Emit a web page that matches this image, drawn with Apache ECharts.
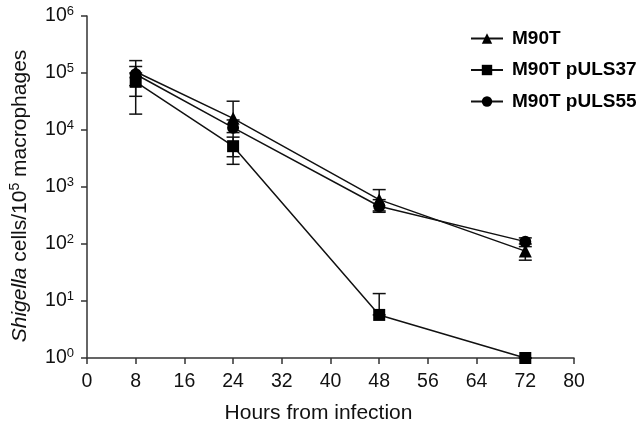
<!DOCTYPE html>
<html><head><meta charset="utf-8">
<script src="https://cdn.jsdelivr.net/npm/echarts@6/dist/echarts.min.js"></script>
<style>html,body{margin:0;padding:0;background:#fff}#c{width:640px;height:429px}</style>
</head><body><div id="c"></div>
<script>
const hours = [8, 24, 48, 72];
const m90t = [105000, 16000, 600, 75];
const m90tLow = [60000, 9000, 380, 52];
const m90tHigh = [165000, 32000, 900, 100];
const puls37 = [70000, 5200, 5.7, 1];
const puls37Low = [19000, 2500, 5.7, 1];
const puls37High = [100000, 7500, 13.5, 1];
const puls55 = [95000, 11000, 460, 110];
const puls55Low = [39000, 3400, 360, 90];
const puls55High = [130000, 15000, 600, 128];
const seriesNames = ['M90T', 'M90T pULS37', 'M90T pULS55'];
const xTicks = [0, 8, 16, 24, 32, 40, 48, 56, 64, 72, 80];

const font = 'Liberation Sans, Arial, sans-serif';
const chart = echarts.init(document.getElementById('c'), null, {renderer: 'canvas'});

function pts(vals) { return hours.map((h, i) => [h, vals[i]]); }
function errData(lo, hi) { return hours.map((h, i) => [h, lo[i], hi[i]]); }
function errSeries(lo, hi) {
  return {
    type: 'custom',
    data: errData(lo, hi),
    z: 1,
    silent: true,
    renderItem: function (params, api) {
      const x = api.value(0);
      const a = api.coord([x, api.value(1)]);
      const b = api.coord([x, api.value(2)]);
      const w = 6.5;
      const st = {stroke: '#111', lineWidth: 1.5};
      return {type: 'group', children: [
        {type: 'line', shape: {x1: a[0], y1: a[1], x2: b[0], y2: b[1]}, style: st},
        {type: 'line', shape: {x1: a[0] - w, y1: a[1], x2: a[0] + w, y2: a[1]}, style: st},
        {type: 'line', shape: {x1: b[0] - w, y1: b[1], x2: b[0] + w, y2: b[1]}, style: st}
      ]};
    }
  };
}
function lineSeries(name, vals, symbol, size) {
  return {
    name: name, type: 'line', data: pts(vals), symbol: symbol, symbolSize: size,
    z: 3,
    lineStyle: {color: '#111', width: 1.5},
    itemStyle: {color: '#000', borderWidth: 0},
    emphasis: {disabled: true},
    animation: false
  };
}

chart.setOption({
  animation: false,
  backgroundColor: '#fff',
  grid: {left: 85, right: 66, top: 16, bottom: 69, containLabel: false},
  legend: {
    orient: 'vertical', left: 465, top: 24, itemGap: 12.5,
    itemWidth: 32, itemHeight: 13,
    textStyle: {fontFamily: font, fontSize: 19, fontWeight: 'bold', color: '#000', padding: [0, 0, 0, 4]},
    data: seriesNames
  },
  xAxis: {
    type: 'value', min: 0, max: 80, interval: 8,
    name: 'Hours from infection', nameLocation: 'middle', nameGap: 45,
    nameTextStyle: {fontFamily: font, fontSize: 21, color: '#111', padding: [0, 24, 0, 0]},
    axisLine: {lineStyle: {color: '#333', width: 1.5}},
    axisTick: {length: 6, lineStyle: {color: '#333', width: 1.5}},
    axisLabel: {fontFamily: font, fontSize: 19.5, color: '#111', margin: 14,
      customValues: xTicks},
    splitLine: {show: false}
  },
  yAxis: {
    type: 'log', logBase: 10, min: 1, max: 1000000,
    name: '{i|Shigella} cells/10{s|5} macrophages', nameLocation: 'middle', nameGap: 55,
    nameTextStyle: {fontFamily: font, fontSize: 21, color: '#111', padding: [0, 18, 0, 0],
      rich: {
        i: {fontFamily: font, fontSize: 21, fontStyle: 'italic', color: '#111'},
        s: {fontFamily: font, fontSize: 14, color: '#111', padding: [0, 0, 10, 0]}
      }},
    axisLine: {show: true, lineStyle: {color: '#333', width: 1.5}},
    axisTick: {show: true, length: 6, lineStyle: {color: '#333', width: 1.5}},
    axisLabel: {
      fontFamily: font, fontSize: 19.5, color: '#111', margin: 13,
      formatter: function (v) { return '10{s|' + Math.round(Math.log10(v)) + '}'; },
      rich: {s: {fontFamily: font, fontSize: 13, color: '#111', padding: [0, 0, 10, 0]}}
    },
    minorTick: {show: false},
    splitLine: {show: false}
  },
  series: [
    errSeries(m90tLow, m90tHigh),
    errSeries(puls37Low, puls37High),
    errSeries(puls55Low, puls55High),
    lineSeries(seriesNames[0], m90t, 'triangle', 13),
    lineSeries(seriesNames[1], puls37, 'rect', 12),
    lineSeries(seriesNames[2], puls55, 'circle', 12)
  ]
});
</script></body></html>
